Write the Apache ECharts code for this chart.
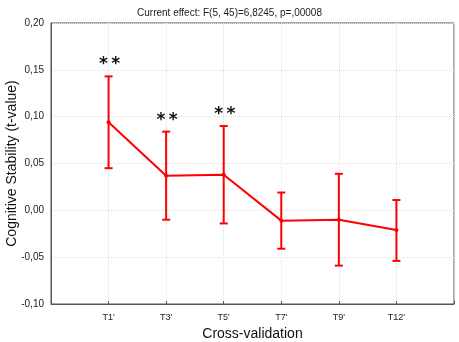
<!DOCTYPE html>
<html>
<head>
<meta charset="utf-8">
<script src="https://cdn.jsdelivr.net/npm/echarts@6/dist/echarts.min.js"></script>
<style>
  html, body { margin: 0; padding: 0; background: #fff; }
  #chart { width: 459px; height: 342px; }
</style>
</head>
<body>
<div id="chart"></div>
<script>
// values
var categories = ["T1'", "T3'", "T5'", "T7'", "T9'", "T12'"];
var means = [0.094, 0.037, 0.038, -0.011, -0.010, -0.021];
var upper = [0.143, 0.084, 0.090, 0.019, 0.039, 0.011];
var lower = [0.045, -0.010, -0.014, -0.041, -0.059, -0.054];
var marks = ["**", "**", "**", "", "", ""];
var yTicks = [-0.10, -0.05, 0.00, 0.05, 0.10, 0.15, 0.20];

// padded category list so points sit inside the frame
var axisCats = [""].concat(categories).concat([""]);
var lineData = means.map(function (v, i) { return [i + 1, v]; });
var errData = means.map(function (v, i) { return [i + 1, lower[i], upper[i], i]; });

var chart = echarts.init(document.getElementById("chart"));

var option = {
  animation: false,
  backgroundColor: "#fff",
  title: {
    text: "Current effect: F(5, 45)=6,8245, p=,00008",
    left: "center",
    top: 3,
    textStyle: { fontFamily: "Liberation Sans", fontSize: 10, fontWeight: "normal", color: "#222" }
  },
  grid: {
    left: 51, right: 5, top: 23, bottom: 38,
    outerBoundsMode: "none",
    containLabel: false,
    show: true, borderColor: "#555", borderWidth: 1
  },
  xAxis: {
    type: "category",
    data: axisCats,
    boundaryGap: false,
    name: "Cross-validation",
    nameLocation: "middle",
    nameGap: 23,
    nameMoveOverlap: false,
    nameTextStyle: { fontFamily: "Liberation Sans", fontSize: 14, color: "#111" },
    axisLine: { onZero: false, lineStyle: { color: "#555" } },
    axisTick: { show: true, length: 3, inside: true, lineStyle: { color: "#555" } },
    axisLabel: { fontFamily: "Liberation Sans", fontSize: 9, color: "#222", margin: 9 },
    splitLine: { show: true, lineStyle: { color: "#e2e2e2", type: "dotted" } }
  },
  yAxis: {
    type: "value",
    min: -0.10,
    max: 0.20,
    interval: 0.05,
    name: "Cognitive Stability (t-value)",
    nameLocation: "middle",
    nameGap: 32,
    nameMoveOverlap: false,
    nameTextStyle: { fontFamily: "Liberation Sans", fontSize: 14, color: "#111" },
    axisLine: { show: true, lineStyle: { color: "#555" } },
    axisTick: { show: false },
    axisLabel: {
      fontFamily: "Liberation Sans", fontSize: 10, color: "#222", margin: 7,
      formatter: function (v) {
        var t = yTicks.find(function (y) { return Math.abs(y - v) < 1e-9; });
        return (t === undefined ? v : t).toFixed(2).replace(".", ",");
      }
    },
    splitLine: { show: true, lineStyle: { color: "#e2e2e2", type: "dotted" } }
  },
  series: [
    {
      type: "line",
      data: lineData,
      symbol: "circle",
      symbolSize: 4,
      itemStyle: { color: "#ff0000" },
      lineStyle: { color: "#ff0000", width: 2 },
      z: 3
    },
    {
      type: "custom",
      data: errData,
      z: 4,
      renderItem: function (params, api) {
        var x = api.value(0);
        var lo = api.coord([x, api.value(1)]);
        var hi = api.coord([x, api.value(2)]);
        var w = 4;
        var st = { stroke: "#ff0000", lineWidth: 2 };
        var kids = [
          { type: "line", shape: { x1: lo[0], y1: lo[1], x2: hi[0], y2: hi[1] }, style: st },
          { type: "line", shape: { x1: lo[0] - w, y1: lo[1], x2: lo[0] + w, y2: lo[1] }, style: st },
          { type: "line", shape: { x1: hi[0] - w, y1: hi[1], x2: hi[0] + w, y2: hi[1] }, style: st }
        ];
        var m = marks[api.value(3)];
        if (m) {
          kids.push({
            type: "text",
            style: {
              text: m.split("").join("\u2009"), x: hi[0] + 1, y: hi[1] - 3,
              align: "center", verticalAlign: "bottom",
              fontFamily: "DejaVu Sans", fontSize: 17, fontWeight: "bold", fill: "#111"
            }
          });
        }
        return { type: "group", children: kids };
      }
    }
  ]
};

chart.setOption(option);
</script>
</body>
</html>
